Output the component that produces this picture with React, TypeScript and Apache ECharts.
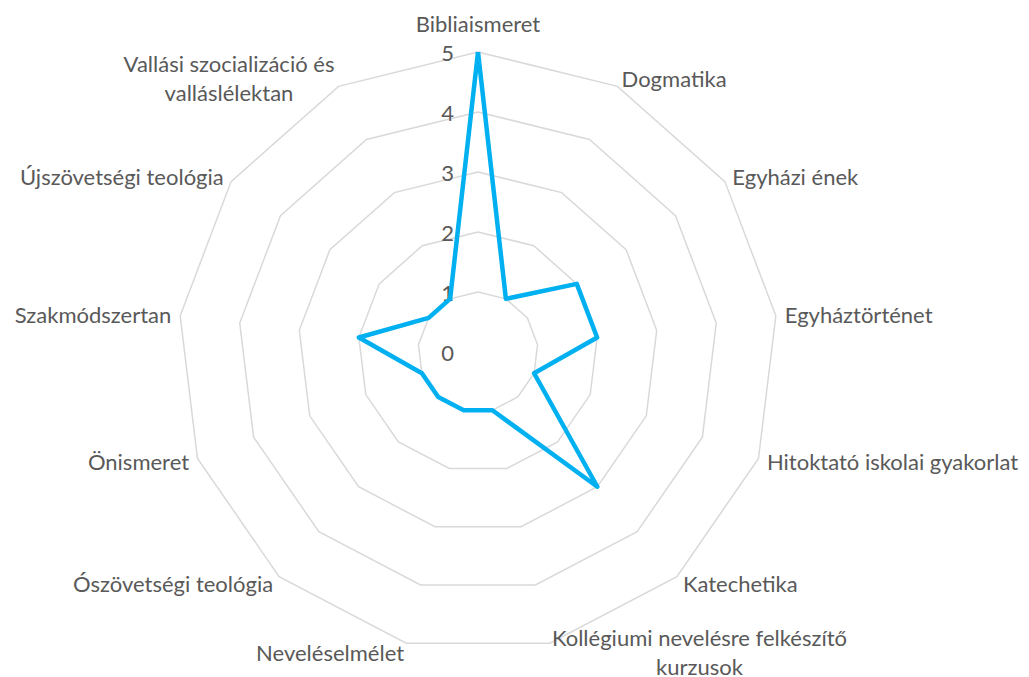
import React, { useEffect, useRef } from "react";
import * as echarts from "echarts";

const categories: string[] = [
  "Bibliaismeret",
  "Dogmatika",
  "Egyházi ének",
  "Egyháztörténet",
  "Hitoktató iskolai gyakorlat",
  "Katechetika",
  "Kollégiumi nevelésre felkészítő\nkurzusok",
  "Neveléselmélet",
  "Ószövetségi teológia",
  "Önismeret",
  "Szakmódszertan",
  "Újszövetségi teológia",
  "Vallási szocializáció és\nvalláslélektan",
];

const values: number[] = [5, 1, 2, 2, 1, 3, 1, 1, 1, 1, 2, 1, 1];

const axisMin = 0;
const axisMax = 5;
const axisStep = 1;

const FONT = "Lato";
const TEXT_COLOR = "#595959";
const FONT_SIZE = 22;

export default function App() {
  const ref = useRef<HTMLDivElement>(null);
  useEffect(() => {
    if (!ref.current) return;
    const chart = echarts.init(ref.current, undefined, { renderer: "svg" });
    const center = [478, 352];
    const radius = 300;
    // ECharts radar runs counter-clockwise; reorder so categories go clockwise
    const order = [0, ...categories.map((_, i) => i).slice(1).reverse()];
    const cats = order.map((i) => categories[i]);
    const vals = order.map((i) => values[i]);
    chart.setOption({
      animation: false,
      backgroundColor: "#ffffff",
      textStyle: { fontFamily: FONT },
      radar: {
        center,
        radius,
        startAngle: 90,
        shape: "polygon",
        splitNumber: (axisMax - axisMin) / axisStep,
        indicator: cats.map((name) => ({ name, min: axisMin, max: axisMax })),
        nameGap: 9,
        axisName: {
          color: TEXT_COLOR,
          fontSize: FONT_SIZE,
          fontFamily: FONT,
          formatter: (name: string) => {
            const style = name === categories[0] ? "t" : "c";
            return name
              .split("\n")
              .map((l) => `{${style}|${l}}`)
              .join("\n");
          },
          rich: {
            c: { align: "center", color: TEXT_COLOR, fontSize: FONT_SIZE, fontFamily: FONT, lineHeight: 29 },
            t: { align: "center", color: TEXT_COLOR, fontSize: FONT_SIZE, fontFamily: FONT, lineHeight: 40 },
          },
        },
        axisLine: { show: false },
        axisTick: { show: false },
        axisLabel: { show: false },
        splitLine: { lineStyle: { color: "#d9d9d9", width: 1.5 } },
        splitArea: { show: false },
      },
      polar: { center, radius },
      angleAxis: {
        type: "value",
        startAngle: 90,
        min: 0,
        max: 360,
        show: false,
      },
      radiusAxis: {
        type: "value",
        min: axisMin,
        max: axisMax,
        interval: axisStep,
        axisLine: { show: false },
        axisTick: { show: false },
        splitLine: { show: false },
        axisLabel: {
          show: true,
          color: TEXT_COLOR,
          fontSize: FONT_SIZE,
          fontFamily: FONT,
          margin: 24,
        },
      },
      series: [
        {
          type: "radar",
          symbol: "none",
          lineStyle: { color: "#00b0f0", width: 4.5 },
          itemStyle: { color: "#00b0f0" },
          data: [{ value: vals, name: "Átlag" }],
        },
      ],
    });
    return () => chart.dispose();
  }, []);
  return (
    <div
      ref={ref}
      style={{ position: "absolute", left: 0, top: 0, width: 1029, height: 677 }}
    />
  );
}
